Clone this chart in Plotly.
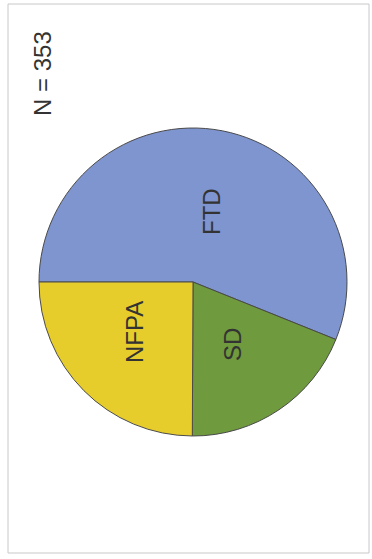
import plotly.graph_objects as go

categories = ["FTD", "SD", "NFPA"]
counts = [198, 67, 88]
colors = ["#7f95d0", "#6f9a3d", "#e6cd2c"]
total_label = "N = 353"

W, H = 372, 559

fig = go.Figure(go.Pie(
    labels=categories,
    values=counts,
    sort=False,
    direction="clockwise",
    rotation=270,
    marker=dict(colors=colors, line=dict(color="#4a4a4a", width=1)),
    textinfo="none",
    hoverinfo="label+value",
    showlegend=False,
    domain=dict(x=[39 / W, 347 / W], y=[(H - 436) / H, (H - 128) / H]),
))

label_pos = {"FTD": (211, 212), "SD": (232, 345), "NFPA": (134, 332)}
font = dict(family="Liberation Sans, Arial", size=24, color="#333333")
anns = []
for c in categories:
    x, y = label_pos[c]
    anns.append(dict(x=x / W, y=1 - y / H, xref="paper", yref="paper", text=c,
                     showarrow=False, textangle=-90, xanchor="center", yanchor="middle",
                     font=font))
anns.append(dict(x=43 / W, y=1 - 74 / H, xref="paper", yref="paper", text=total_label,
                 showarrow=False, textangle=-90, xanchor="center", yanchor="middle",
                 font=font))

fig.update_layout(
    width=W, height=H,
    margin=dict(l=0, r=0, t=0, b=0),
    paper_bgcolor="white", plot_bgcolor="white",
    annotations=anns,
    shapes=[dict(type="rect", xref="paper", yref="paper",
                 x0=8 / W, x1=369 / W, y0=1 - 553 / H, y1=1 - 4 / H,
                 line=dict(color="#c8c8c8", width=1))],
)

fig.write_html("out.html")
